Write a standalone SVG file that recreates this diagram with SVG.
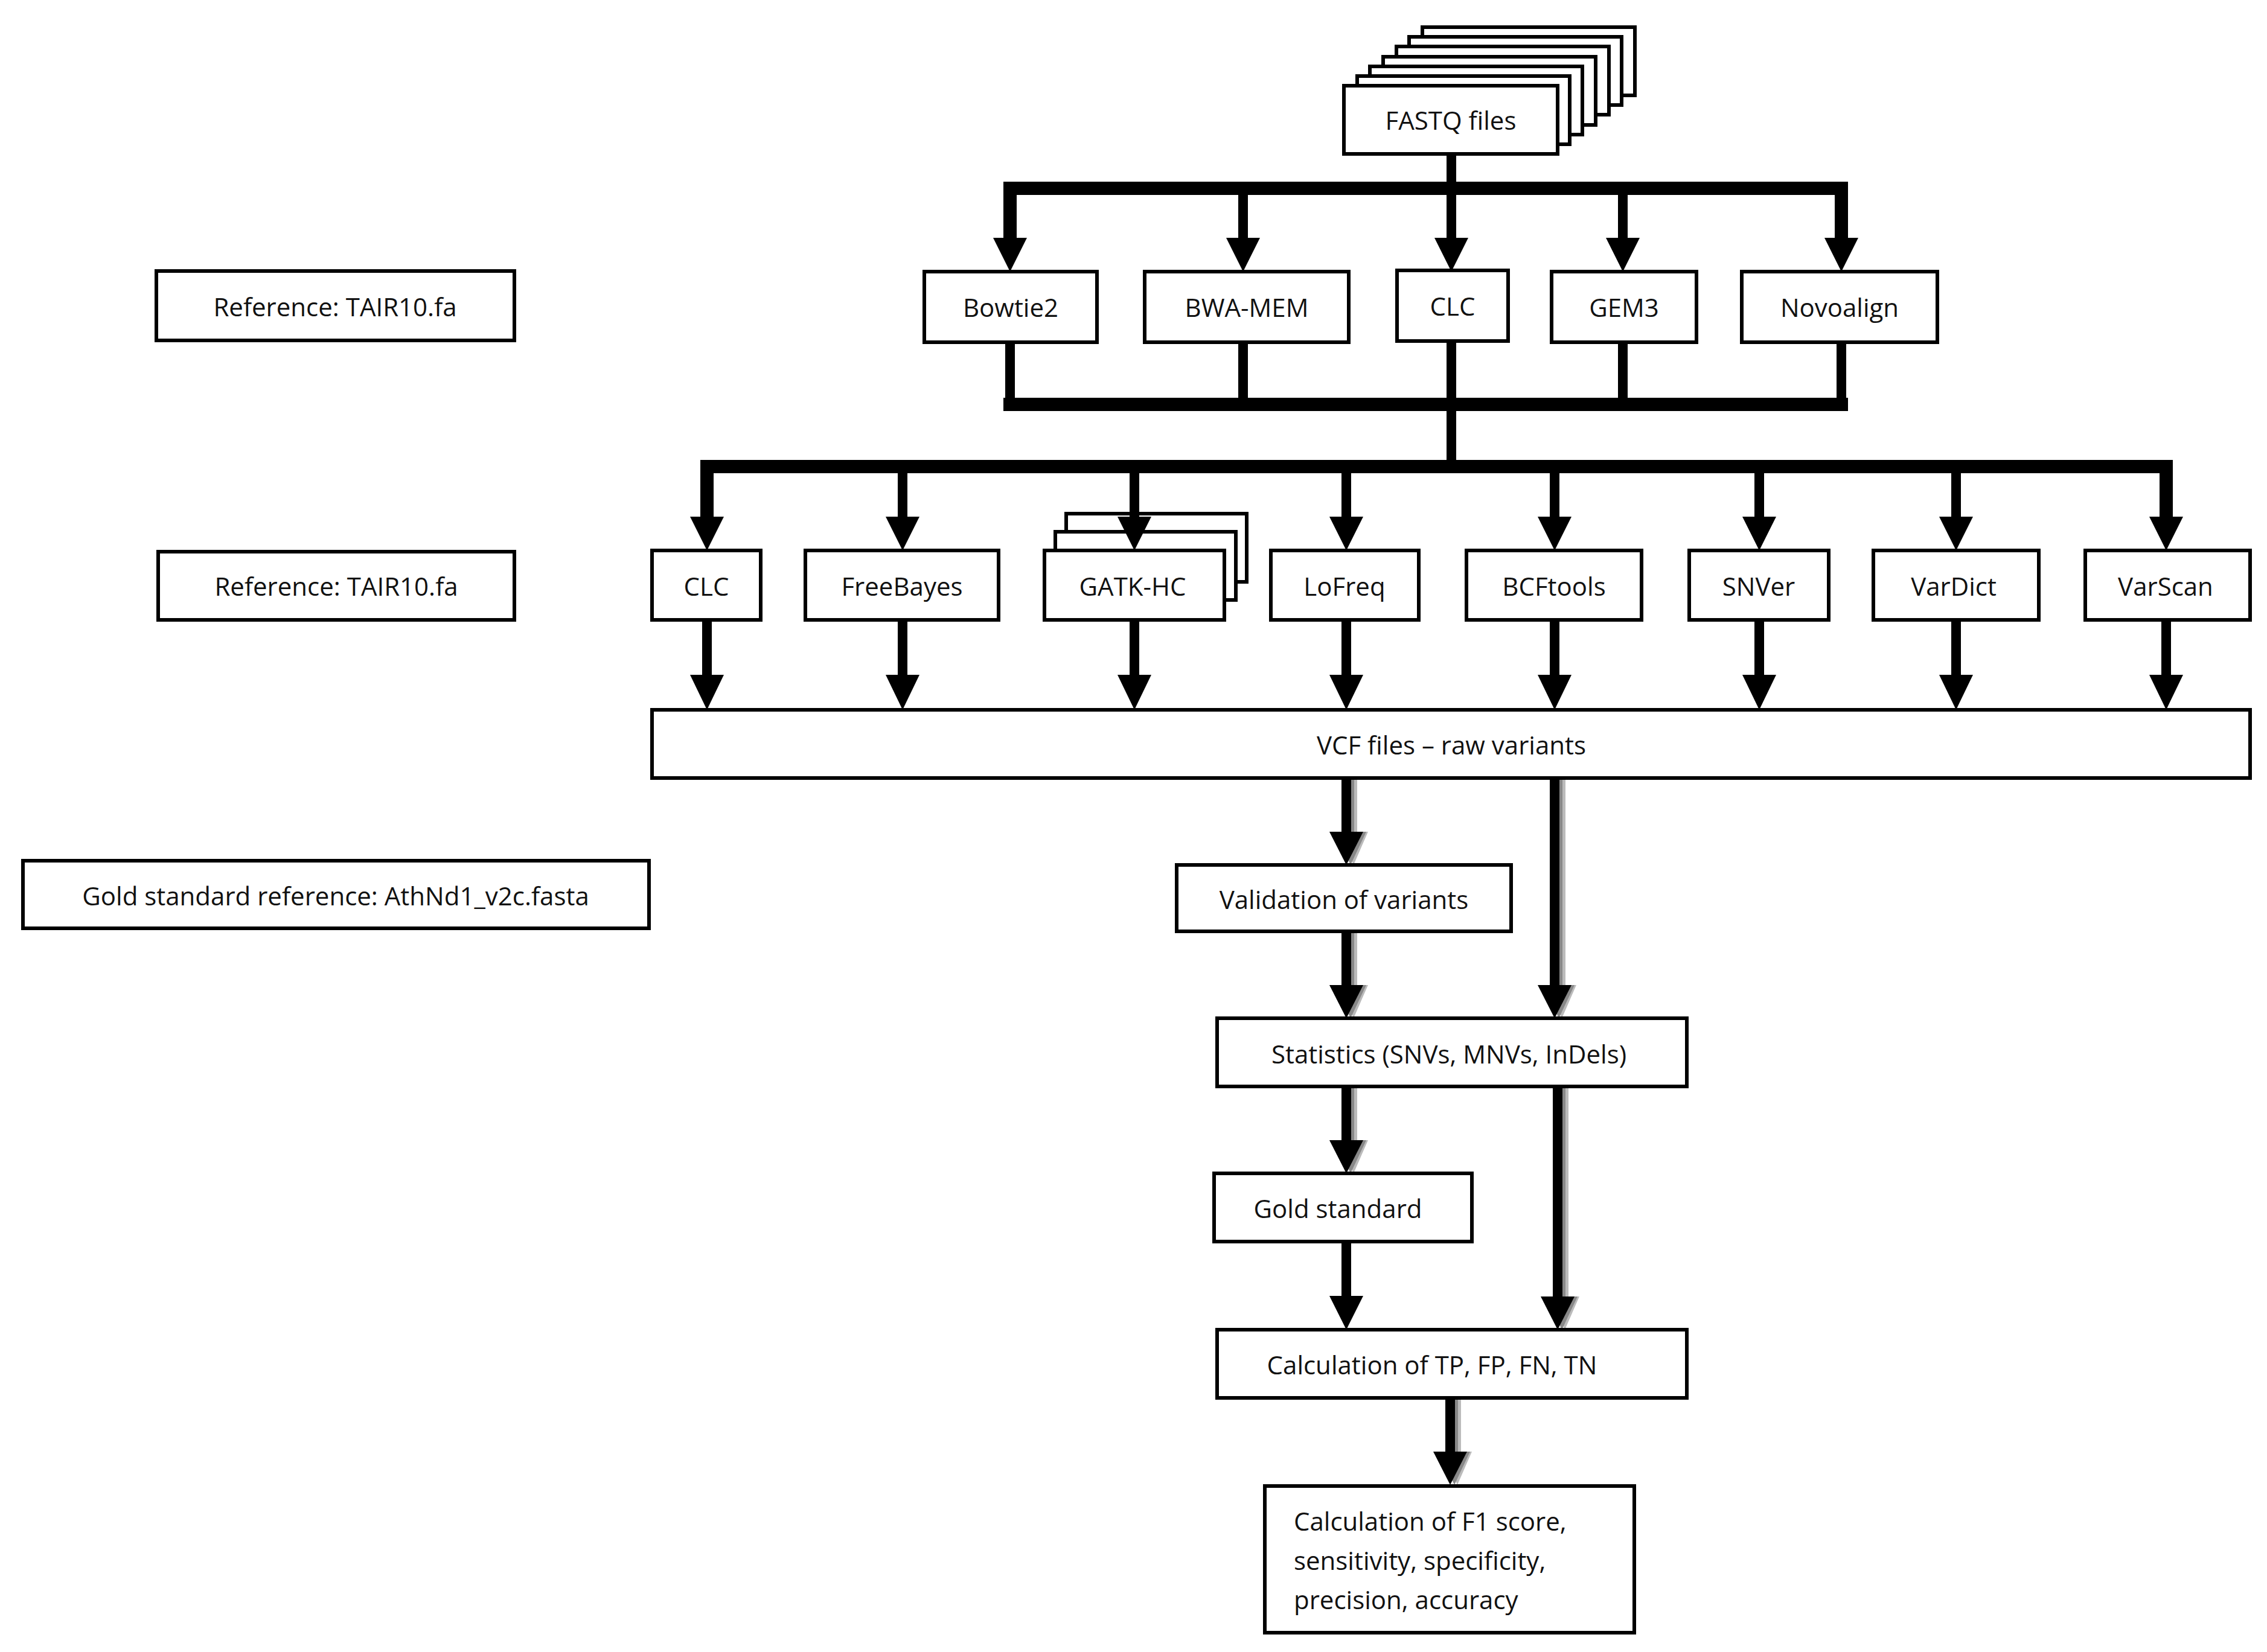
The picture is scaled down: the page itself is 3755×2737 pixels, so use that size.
<svg xmlns="http://www.w3.org/2000/svg" width="3755" height="2737" viewBox="0 0 3755 2737">
<style>
.b{fill:#fff;stroke:#000;stroke-width:6}
.t{font-family:"Open Sans","Liberation Sans",sans-serif;font-size:42px;fill:#111;text-anchor:middle;dominant-baseline:central}
.tl{text-anchor:start}
.bus{stroke:#000;stroke-width:22;fill:none}
.v{stroke:#000;stroke-width:16;fill:none}
.s1{fill:#888}.s2{fill:#bbb}
</style>
<defs>
<g id="ar"><rect x="-8" y="0" width="16" height="1"/></g>
</defs>
<rect width="3755" height="2737" fill="#fff"/>
<g id="fastq">
<rect class="b" x="2356" y="45" width="352" height="113"/>
<rect class="b" x="2334" y="61" width="352" height="113"/>
<rect class="b" x="2313" y="77" width="352" height="113"/>
<rect class="b" x="2291" y="94" width="352" height="113"/>
<rect class="b" x="2269" y="110" width="352" height="113"/>
<rect class="b" x="2248" y="126" width="352" height="113"/>
<rect class="b" x="2226" y="142" width="354" height="113"/>
<text class="t" x="2403" y="198">FASTQ files</text>
</g>
<g id="ref1"><rect class="b" x="259" y="449" width="593" height="115"/><text class="t" x="555" y="507">Reference: TAIR10.fa</text></g>
<g id="bowtie2"><rect class="b" x="1531" y="450" width="286" height="117"/><text class="t" x="1674" y="508">Bowtie2</text></g>
<g id="bwamem"><rect class="b" x="1896" y="450" width="338" height="117"/><text class="t" x="2065" y="508">BWA-MEM</text></g>
<g id="clc1"><rect class="b" x="2314" y="448" width="184" height="117"/><text class="t" x="2406" y="506">CLC</text></g>
<g id="gem3"><rect class="b" x="2570" y="450" width="240" height="117"/><text class="t" x="2690" y="508">GEM3</text></g>
<g id="novoalign"><rect class="b" x="2885" y="450" width="324" height="117"/><text class="t" x="3047" y="508">Novoalign</text></g>
<g id="ref2"><rect class="b" x="262" y="914" width="590" height="113"/><text class="t" x="557" y="970">Reference: TAIR10.fa</text></g>
<g id="clc2"><rect class="b" x="1080" y="912" width="180" height="115"/><text class="t" x="1170" y="970">CLC</text></g>
<g id="freebayes"><rect class="b" x="1334" y="912" width="320" height="115"/><text class="t" x="1494" y="970">FreeBayes</text></g>
<g id="gatkhc">
<rect class="b" x="1766" y="851" width="299" height="113"/>
<rect class="b" x="1748" y="881" width="299" height="113"/>
<rect class="b" x="1730" y="912" width="298" height="115"/>
<text class="t" x="1876" y="970">GATK-HC</text></g>
<g id="lofreq"><rect class="b" x="2105" y="912" width="245" height="115"/><text class="t" x="2227" y="970">LoFreq</text></g>
<g id="bcftools"><rect class="b" x="2429" y="912" width="290" height="115"/><text class="t" x="2574" y="970">BCFtools</text></g>
<g id="snver"><rect class="b" x="2798" y="912" width="231" height="115"/><text class="t" x="2913" y="970">SNVer</text></g>
<g id="vardict"><rect class="b" x="3103" y="912" width="274" height="115"/><text class="t" x="3236" y="970">VarDict</text></g>
<g id="varscan"><rect class="b" x="3454" y="912" width="273" height="115"/><text class="t" x="3587" y="970">VarScan</text></g>
<g id="connectors">
<path class="v" d="M2404 255V312"/>
<path class="bus" d="M1673 395V312H3050V395"/>
<path class="v" d="M2059 312V395M2404 312V395M2688 312V395"/>
<g id="ah1">
<polygon points="1645,394 1701,394 1673,450"/><polygon points="2031,394 2087,394 2059,450"/><polygon points="2376,394 2432,394 2404,450"/><polygon points="2660,394 2716,394 2688,450"/><polygon points="3022,394 3078,394 3050,450"/>
</g>
<path class="v" d="M1673 567V670M2059 567V670M2404 567V670M2688 567V670M3050 567V670"/>
<path class="bus" d="M1662 670H3061"/>
<path class="v" d="M2404 670V773"/>
<path class="bus" d="M1171 857V773H3588V857"/>
<path class="v" d="M1495 773V857M1879 773V857M2230 773V857M2575 773V857M2914 773V857M3240 773V857"/>
<g>
<polygon points="1143,856 1199,856 1171,912"/><polygon points="1467,856 1523,856 1495,912"/><polygon points="1851,856 1907,856 1879,912"/><polygon points="2202,856 2258,856 2230,912"/><polygon points="2547,856 2603,856 2575,912"/><polygon points="2886,856 2942,856 2914,912"/><polygon points="3212,856 3268,856 3240,912"/><polygon points="3560,856 3616,856 3588,912"/>
</g>
<path class="v" d="M1171 1027V1120M1495 1027V1120M1879 1027V1120M2230 1027V1120M2575 1027V1120M2914 1027V1120M3240 1027V1120M3588 1027V1120"/>
<g>
<polygon points="1143,1118 1199,1118 1171,1176"/><polygon points="1467,1118 1523,1118 1495,1176"/><polygon points="1851,1118 1907,1118 1879,1176"/><polygon points="2202,1118 2258,1118 2230,1176"/><polygon points="2547,1118 2603,1118 2575,1176"/><polygon points="2886,1118 2942,1118 2914,1176"/><polygon points="3212,1118 3268,1118 3240,1176"/><polygon points="3560,1118 3616,1118 3588,1176"/>
</g>
<!-- shadowed arrows -->
<g id="shadowed">
<g class="s2"><rect x="2234" y="1292" width="14" height="90"/><polygon points="2218,1378 2266,1378 2242,1433"/>
<rect x="2234" y="1546" width="14" height="90"/><polygon points="2218,1632 2266,1632 2242,1687"/>
<rect x="2234" y="1803" width="14" height="90"/><polygon points="2218,1889 2266,1889 2242,1944"/>
<rect x="2579" y="1292" width="14" height="340"/><polygon points="2563,1632 2611,1632 2587,1687"/>
<rect x="2584" y="1803" width="14" height="346"/><polygon points="2568,2148 2616,2148 2592,2203"/>
<rect x="2406" y="2319" width="14" height="90"/><polygon points="2390,2405 2438,2405 2414,2460"/></g>
<g class="s1"><rect x="2229" y="1292" width="14" height="90"/><polygon points="2211,1378 2263,1378 2237,1433"/>
<rect x="2229" y="1546" width="14" height="90"/><polygon points="2211,1632 2263,1632 2237,1687"/>
<rect x="2229" y="1803" width="14" height="90"/><polygon points="2211,1889 2263,1889 2237,1944"/>
<rect x="2574" y="1292" width="14" height="340"/><polygon points="2556,1632 2608,1632 2582,1687"/>
<rect x="2579" y="1803" width="14" height="346"/><polygon points="2561,2148 2613,2148 2587,2203"/>
<rect x="2401" y="2319" width="14" height="90"/><polygon points="2383,2405 2435,2405 2409,2460"/></g>
<rect x="2222" y="1292" width="16" height="90"/><polygon points="2202,1378 2258,1378 2230,1433"/>
<rect x="2222" y="1546" width="16" height="90"/><polygon points="2202,1632 2258,1632 2230,1687"/>
<rect x="2222" y="1803" width="16" height="90"/><polygon points="2202,1889 2258,1889 2230,1944"/>
<rect x="2567" y="1292" width="16" height="340"/><polygon points="2547,1632 2603,1632 2575,1687"/>
<rect x="2572" y="1803" width="16" height="346"/><polygon points="2552,2148 2608,2148 2580,2203"/>
<rect x="2394" y="2319" width="16" height="90"/><polygon points="2374,2405 2430,2405 2402,2460"/>
</g>
<rect x="2222" y="2060" width="16" height="90"/><polygon points="2202,2147 2258,2147 2230,2203"/>
</g>
<g id="vcf"><rect class="b" x="1080" y="1176" width="2647" height="113"/><text class="t" x="2404" y="1233">VCF files – raw variants</text></g>
<g id="goldref"><rect class="b" x="38" y="1426" width="1037" height="112"/><text class="t" x="556" y="1483">Gold standard reference: AthNd1_v2c.fasta</text></g>
<g id="validation"><rect class="b" x="1949" y="1433" width="554" height="110"/><text class="t" x="2226" y="1489">Validation of variants</text></g>
<g id="statistics"><rect class="b" x="2016" y="1687" width="778" height="113"/><text class="t" x="2400" y="1745">Statistics (SNVs, MNVs, InDels)</text></g>
<g id="goldstd"><rect class="b" x="2011" y="1944" width="427" height="113"/><text class="t" x="2216" y="2001">Gold standard</text></g>
<g id="calctp"><rect class="b" x="2016" y="2203" width="778" height="113"/><text class="t" x="2372" y="2260">Calculation of TP, FP, FN, TN</text></g>
<g id="final"><rect class="b" x="2095" y="2462" width="612" height="243"/>
<text class="t tl" x="2143" y="2519">Calculation of F1 score,</text>
<text class="t tl" x="2143" y="2584">sensitivity, specificity,</text>
<text class="t tl" x="2143" y="2649">precision, accuracy</text></g>
</svg>
